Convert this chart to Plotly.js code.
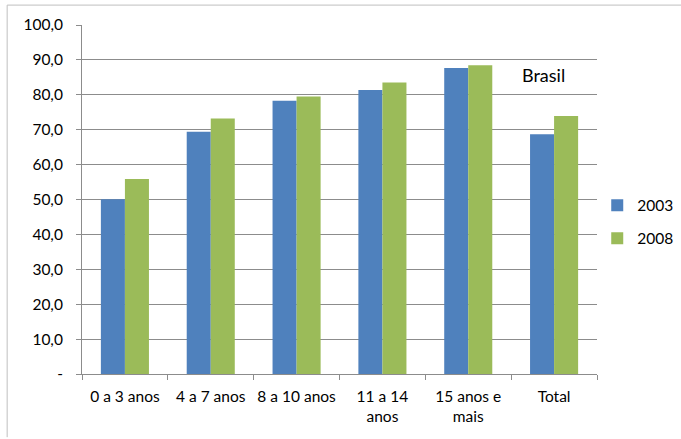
<!DOCTYPE html>
<html>
<head>
<meta charset="utf-8">
<script src="https://cdn.plot.ly/plotly-3.0.1.min.js"></script>
<style>html,body{margin:0;padding:0;background:#fff;}#chart{width:681px;height:439px;}</style>
</head>
<body>
<div id="chart"></div>
<script>
var categories = ["0 a 3 anos", "4 a 7 anos", "8 a 10 anos", "11 a 14<br>anos", "15 anos e<br>mais", "Total"];
var values2003 = [50.1, 69.4, 78.3, 81.4, 87.7, 68.7];
var values2008 = [55.9, 73.2, 79.5, 83.5, 88.5, 73.9];
var yTickVals = [0, 10, 20, 30, 40, 50, 60, 70, 80, 90, 100];
var yTickText = ["-", "10,0", "20,0", "30,0", "40,0", "50,0", "60,0", "70,0", "80,0", "90,0", "100,0"];
var annotationText = "Brasil";

var font = "Lato, 'Open Sans', sans-serif";
var data = [
  {type: "bar", name: "2003", legendgroup: "a", x: categories, y: values2003, marker: {color: "#4F81BD"}},
  {type: "bar", name: "2008", legendgroup: "b", x: categories, y: values2008, marker: {color: "#9BBB59"}}
];
var layout = {
  width: 681, height: 439,
  margin: {l: 82, r: 84, t: 25, b: 65},
  paper_bgcolor: "#fff", plot_bgcolor: "#fff",
  font: {family: font, size: 15.5, color: "#000"},
  barmode: "group", bargap: 0.44, bargroupgap: 0,
  showlegend: true,
  legend: {xref: "container", yref: "container", x: 0.877, y: 0.494, xanchor: "left", yanchor: "middle", font: {size: 15.5}, itemwidth: 30, tracegroupgap: 10, bgcolor: "rgba(0,0,0,0)"},
  xaxis: {type: "category", automargin: false, tickangle: 0, showline: true, linecolor: "#8c8c8c", linewidth: 1, ticks: "outside", tickson: "boundaries", ticklen: 5, tickcolor: "#8c8c8c", showgrid: false, tickfont: {size: 15.5}, ticklabelstandoff: 8},
  yaxis: {range: [0, 100], automargin: false, tickvals: yTickVals, ticktext: yTickText, showline: true, linecolor: "#8c8c8c", linewidth: 1, ticks: "outside", ticklen: 5, tickcolor: "#8c8c8c", showgrid: true, gridcolor: "#8c8c8c", gridwidth: 1, zeroline: false, tickfont: {size: 15.5}, ticklabelstandoff: 10},
  annotations: [{text: annotationText, xref: "paper", yref: "paper", x: 0.897, y: 0.857, xanchor: "center", yanchor: "middle", showarrow: false, font: {size: 18}}],
  shapes: [
    {type: "line", xref: "paper", yref: "paper", x0: -0.1453, x1: 1.165, y0: 1.057, y1: 1.057, line: {color: "#bfbfbf", width: 1}},
    {type: "line", xref: "paper", yref: "paper", x0: -0.1453, x1: -0.1453, y0: 1.057, y1: -0.181, line: {color: "#bfbfbf", width: 1}}
  ]
};
Plotly.newPlot("chart", data, layout, {displayModeBar: false, staticPlot: true});
</script>
</body>
</html>
